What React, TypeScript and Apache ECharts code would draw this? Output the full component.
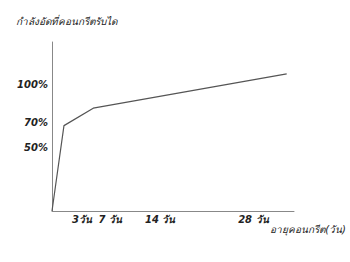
import React, { useEffect, useRef } from "react";
import * as echarts from "echarts";

const titleText = "กำลังอัดที่คอนกรีตรับได";
const xAxisName = "อายุคอนกรีต(วัน)";
const xTickValues = [3, 7, 14, 28];
const xTickLabels = ["3วัน", "7 วัน", "14 วัน", "28 วัน"];
const yTickValues = [50, 70, 100];
const yTickLabels = ["50%", "70%", "100%"];
const strengthDays = [0, 1.8, 6.2, 35.3];
const strengthValues = [0, 67.7, 81.5, 108.7];

export default function App() {
  const ref = useRef<HTMLDivElement>(null);
  useEffect(() => {
    if (!ref.current) return;
    const chart = echarts.init(ref.current, undefined, { renderer: "svg" });
    const labelFont = "'DejaVu Sans', Tahoma, sans-serif";
    chart.setOption({
      animation: false,
      backgroundColor: "#ffffff",
      title: {
        text: titleText,
        left: 11,
        top: 11,
        textStyle: {
          fontSize: 10,
          fontStyle: "italic",
          fontWeight: "normal",
          color: "#222",
          fontFamily: labelFont,
        },
      },
      grid: { left: 52, right: 56, top: 42, bottom: 51 },
      xAxis: {
        type: "value",
        min: 0,
        max: 36.4,
        name: xAxisName,
        nameLocation: "end",
        nameGap: 52,
        nameTextStyle: {
          align: "right",
          verticalAlign: "top",
          padding: [13, 0, 0, 0],
          fontSize: 10,
          fontStyle: "italic",
          color: "#222",
          fontFamily: labelFont,
        },
        axisLine: { show: true, lineStyle: { color: "#888", width: 1 } },
        axisTick: { show: false },
        splitLine: { show: false },
        axisLabel: {
          customValues: xTickValues,
          formatter: (v: number) => xTickLabels[xTickValues.indexOf(v)] ?? "",
          align: "left",
          margin: 3,
          fontSize: 10,
          fontStyle: "italic",
          fontWeight: "bold",
          color: "#222",
          fontFamily: labelFont,
        },
      },
      yAxis: {
        type: "value",
        min: 0,
        max: 134,
        axisLine: { show: true, lineStyle: { color: "#888", width: 1 } },
        axisTick: { show: false },
        splitLine: { show: false },
        axisLabel: {
          customValues: yTickValues,
          formatter: (v: number) => yTickLabels[yTickValues.indexOf(v)] ?? "",
          margin: 4,
          fontSize: 10,
          fontStyle: "italic",
          fontWeight: "bold",
          color: "#222",
          fontFamily: labelFont,
        },
      },
      series: [
        {
          type: "line",
          data: strengthDays.map((d, i) => [d, strengthValues[i]]),
          symbol: "none",
          lineStyle: { color: "#555", width: 1.2 },
        },
      ],
    });
    return () => chart.dispose();
  }, []);
  return (
    <div
      ref={ref}
      style={{ position: "fixed", left: 0, top: 0, width: 350, height: 262 }}
    />
  );
}
